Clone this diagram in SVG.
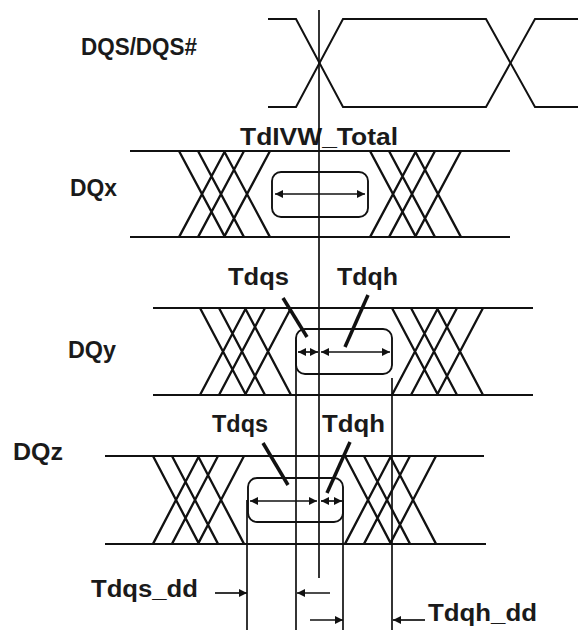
<svg xmlns="http://www.w3.org/2000/svg" xmlns:xlink="http://www.w3.org/1999/xlink" width="578" height="630" viewBox="0 0 578 630">
<style>
.w{fill:none;stroke:#111;stroke-width:2;stroke-linejoin:miter}
.x{fill:none;stroke:#111;stroke-width:2.3}
.v{fill:none;stroke:#111;stroke-width:1.7}
.lead{fill:none;stroke:#111;stroke-width:3.5}
.box{fill:none;stroke:#111;stroke-width:1.9}
.arr{fill:none;stroke:#111;stroke-width:1.7;marker-start:url(#ah);marker-end:url(#ah)}
.arr1{fill:none;stroke:#111;stroke-width:1.7;marker-end:url(#ah)}
text{font-family:"Liberation Sans",Arial,sans-serif;font-weight:bold;font-size:23.5px;fill:#1a1a1a}
</style>
<defs>
<marker id="ah" viewBox="0 0 10 10" refX="10" refY="5" markerWidth="10" markerHeight="8" markerUnits="userSpaceOnUse" orient="auto-start-reverse">
<path d="M0,0 L10,5 L0,10 Z" fill="#111"/>
</marker>
<path id="xg" class="x" d="M0,0 l46,87 M19,0 l46,87 M45,0 l46,87 M0,87 l46,-87 M19,87 l46,-87 M45,87 l46,-87"/>
</defs>
<rect width="578" height="630" fill="#fff"/>

<g id="dqs">
<text x="81" y="55" textLength="116" lengthAdjust="spacingAndGlyphs">DQS/DQS#</text>
<path class="w" d="M268,19 L296,19 L343,107 L486,107 L535,19 L578,19"/>
<path class="w" d="M268,107 L296,107 L343,19 L486,19 L535,107 L578,107"/>
</g>

<g id="dqx">
<text x="70" y="196" textLength="47" lengthAdjust="spacingAndGlyphs">DQx</text>
<path class="w" d="M130,151 L510,151 M130,237 L510,237"/>
<use xlink:href="#xg" transform="translate(179,151) scale(1,0.99)"/>
<use xlink:href="#xg" transform="translate(370,151) scale(1,0.99)"/>
<text x="240" y="145" textLength="158" lengthAdjust="spacingAndGlyphs">TdIVW_Total</text>
<rect class="box" x="272" y="172" width="96" height="45" rx="9"/>
<path class="arr" d="M275,194 L365,194"/>
</g>

<g id="dqy">
<text x="68" y="358" textLength="48" lengthAdjust="spacingAndGlyphs">DQy</text>
<path class="w" d="M153,308 L533,308 M153,395 L533,395"/>
<use xlink:href="#xg" transform="translate(200,308)"/>
<use xlink:href="#xg" transform="translate(392,308)"/>
<rect class="box" x="296" y="329" width="96" height="45" rx="9"/>
<text x="228" y="285" textLength="61" lengthAdjust="spacingAndGlyphs">Tdqs</text>
<text x="337" y="285" textLength="61" lengthAdjust="spacingAndGlyphs">Tdqh</text>
<path class="arr" d="M298,352 L318,352"/>
<path class="arr" d="M321,352 L390,352"/>
<path class="lead" d="M283,298 L307,337"/>
<path class="lead" d="M368,295 L345,347"/>
</g>

<g id="dqz">
<text x="13" y="460" textLength="50" lengthAdjust="spacingAndGlyphs">DQz</text>
<path class="w" d="M105,456 L484,456 M105,544 L486,544"/>
<use xlink:href="#xg" transform="translate(153,456) scale(1,1.01)"/>
<use xlink:href="#xg" transform="translate(345,456) scale(1,1.01)"/>
<rect class="box" x="248" y="478" width="95" height="44" rx="9"/>
<text x="212" y="432" textLength="56" lengthAdjust="spacingAndGlyphs">Tdqs</text>
<text x="322" y="432" textLength="63" lengthAdjust="spacingAndGlyphs">Tdqh</text>
<path class="arr" d="M250,501 L317,501"/>
<path class="arr" d="M321,501 L342,501"/>
<path class="lead" d="M263,443 L288,485"/>
<path class="lead" d="M350,442 L327,493"/>
</g>

<g id="connectors">
<path class="v" d="M319,10 L319,578"/>
<path class="v" d="M296,340 L296,630"/>
<path class="v" d="M392,378 L392,630"/>
<path class="v" d="M247,500 L247,630"/>
<path class="v" d="M343,500 L343,630"/>
<path class="arr1" d="M215,593 L247,593"/>
<path class="arr1" d="M330,593 L297,593"/>
<path class="arr1" d="M310,620 L343,620"/>
<path class="arr1" d="M425,620 L393,620"/>
</g>

<g id="dd-labels">
<text x="91" y="597" textLength="107" lengthAdjust="spacingAndGlyphs">Tdqs_dd</text>
<text x="428" y="621" textLength="109" lengthAdjust="spacingAndGlyphs">Tdqh_dd</text>
</g>
</svg>
